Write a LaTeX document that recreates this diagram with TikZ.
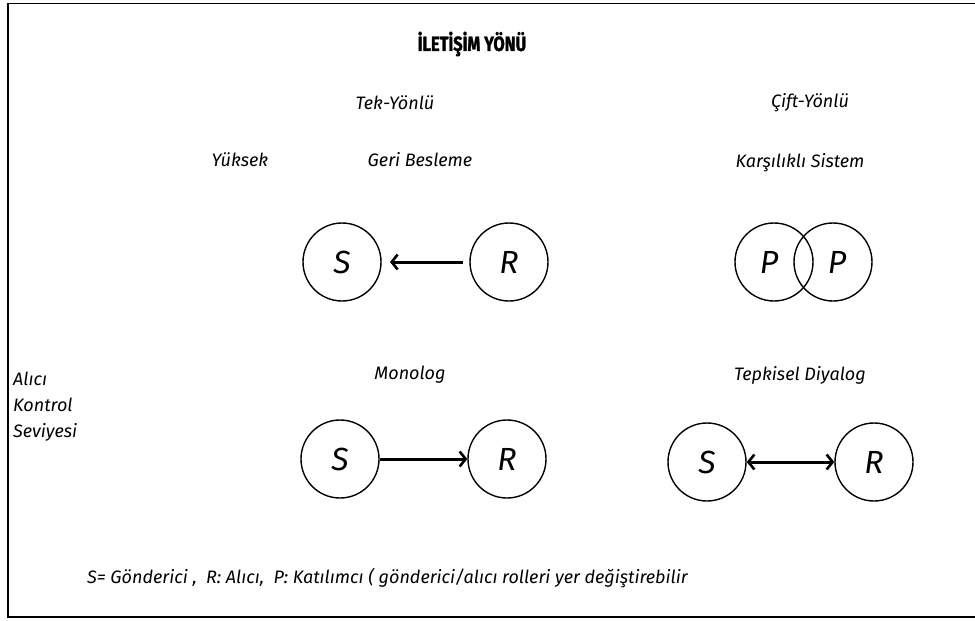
\documentclass[tikz,border=0pt]{standalone}
\usepackage{fontspec}
\setmainfont{Fira Sans}
\newfontfamily\titlefont[FakeStretch=0.8,FakeBold=1.5]{Fira Sans}
\usetikzlibrary{arrows.meta}
\tikzset{
  party/.style={circle, draw, line width=1.4pt, minimum size=78pt, inner sep=0pt,
                font=\itshape\fontsize{32}{32}\selectfont},
  lbl/.style={font=\itshape\fontsize{18}{20}\selectfont, inner sep=0pt},
  barb/.style={Straight Barb[length=6pt,width=15pt,line width=2.6pt]},
  flow/.style={draw, line width=3pt, -{Straight Barb[length=6pt,width=15pt,line width=2.6pt]}},
  flow2/.style={draw, line width=3pt, {Straight Barb[length=6pt,width=15pt,line width=2.6pt]}-{Straight Barb[length=6pt,width=15pt,line width=2.6pt]}}
}
\begin{document}
\begin{tikzpicture}[x=1pt,y=-1pt]
\useasboundingbox (0,0) rectangle (975,621);
\fill[white] (0,0) rectangle (975,621);
% outer frame, open on the right
\draw[line width=1.6pt] (980,3.5) -- (8,3.5) -- (8,617) -- (980,617);

% heading
\node[font=\titlefont\bfseries\fontsize{20.5}{21}\selectfont, inner sep=0pt] (title) at (472,44) {İLETİŞİM YÖNÜ};

% column and row labels
\node[lbl] (tek) at (395,103) {Tek-Yönlü};
\node[lbl] (cift) at (810,103) {Çift-Yönlü};
\node[lbl] (yuksek) at (240,160) {Yüksek};
\node[lbl] (geri) at (420,160) {Geri Besleme};
\node[lbl] (karsi) at (800,163) {Karşılıklı Sistem};
\node[lbl, align=left, anchor=north west, font=\itshape\fontsize{18}{26}\selectfont] (alici) at (13,372) {Alıcı\\Kontrol\\Seviyesi};
\node[lbl] (mono) at (410,375) {Monolog};
\node[lbl] (tepki) at (800,375) {Tepkisel Diyalog};

% feedback: R back to S
\node[party] (s1) at (342,262) {S};
\node[party] (r1) at (509,262) {R};
\path[flow] (463,262) -- (390,262);

% mutual system
\node[party] (p1) at (774,262) {};
\node[party] (p2) at (833,262) {};
\node[font=\itshape\fontsize{32}{32}\selectfont] (p1t) at (769,262) {P};
\node[font=\itshape\fontsize{32}{32}\selectfont] (p2t) at (837,262) {P};

% monologue
\node[party] (s2) at (340,459) {S};
\node[party] (r2) at (507,459) {R};
\path[flow] (s2) -- (r2);

% reactive dialogue
\node[party] (s3) at (707,462) {S};
\node[party] (r3) at (874,462) {R};
\path[flow2] (s3) -- (r3);

% legend
\node[lbl, anchor=west] (legend) at (87,578) {S= Gönderici ,\ \ R: Alıcı,\ \ P: Katılımcı ( gönderici/alıcı rolleri yer değiştirebilir};
\end{tikzpicture}
\end{document}
